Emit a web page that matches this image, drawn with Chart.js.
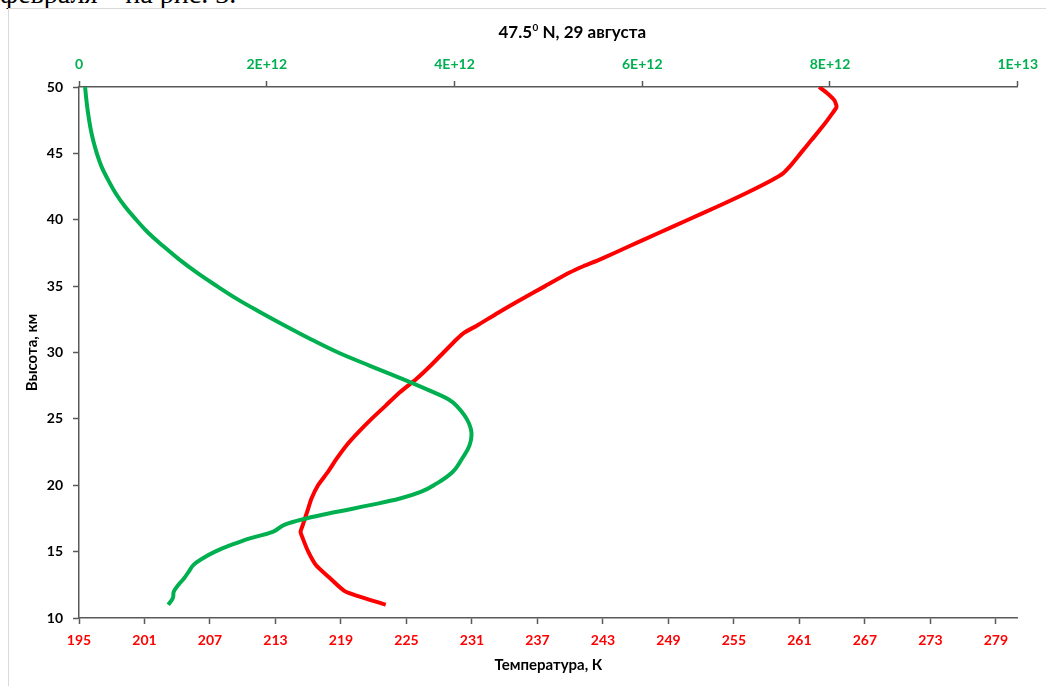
<!DOCTYPE html>
<html>
<head>
<meta charset="utf-8">
<script src="https://cdn.jsdelivr.net/npm/chart.js@4.4.1/dist/chart.umd.min.js"></script>
<style>
  body { margin: 0; background: #fff; overflow: hidden; }
  .doc-line { position: absolute; left: 0; top: -20px; font: 28px/1 "Liberation Serif", serif; color: #000; white-space: nowrap; }
  .frame { position: absolute; left: 8px; top: 8px; width: 1200px; height: 800px; border: 1px solid #d9d9d9; }
  #chart { position: absolute; left: 0; top: 0; }
</style>
</head>
<body>
<div class="doc-line">февраля – на рис. 3.</div>
<div class="frame"></div>
<canvas id="chart" width="1046" height="686"></canvas>
<script>
// temperature profile, K
const heightT = [11, 12, 13, 14, 15, 16, 16.5, 17, 18, 19, 20, 21, 22, 23, 24, 25, 26, 27, 28, 29, 30,
  31, 31.5, 32, 33, 34, 35, 36, 36.5, 37, 38, 39, 40, 41, 42, 43, 43.5, 44, 45, 46, 47, 48, 48.5, 49, 49.5, 50];
const temperature = [223.1, 219.4, 218.0, 216.7, 216.0, 215.5, 215.3, 215.5, 215.9, 216.3, 216.9, 217.8, 218.6,
  219.5, 220.6, 221.8, 223.1, 224.4, 225.9, 227.2, 228.4, 229.6, 230.3, 231.4, 233.4, 235.5, 237.7, 239.9,
  241.2, 242.7, 245.4, 248.1, 250.8, 253.5, 256.1, 258.5, 259.5, 260.1, 261.1, 262.1, 263.1, 264.0, 264.4,
  264.2, 263.6, 262.8];

// ozone number density, units of 1E+12
const heightN = [11, 11.5, 12, 12.5, 13, 13.5, 14, 14.5, 15, 15.5, 16, 16.5, 17, 17.5, 18, 18.5, 19, 19.5, 20,
  21, 22, 23, 24, 25, 26, 26.5, 27, 28, 29, 30, 31, 32, 33, 34, 35, 36, 37, 38, 39, 40, 41, 42, 43, 44, 45,
  46, 47, 48, 49, 50];
const ozone = [0.95, 1.00, 1.01, 1.06, 1.12, 1.17, 1.22, 1.32, 1.45, 1.62, 1.82, 2.07, 2.18, 2.42, 2.75, 3.10,
  3.42, 3.64, 3.78, 3.98, 4.08, 4.16, 4.18, 4.13, 4.02, 3.93, 3.78, 3.45, 3.10, 2.76, 2.47, 2.20, 1.94, 1.69,
  1.47, 1.26, 1.07, 0.90, 0.74, 0.61, 0.49, 0.39, 0.31, 0.24, 0.19, 0.15, 0.12, 0.097, 0.079, 0.065];

const tempTicks = [195, 201, 207, 213, 219, 225, 231, 237, 243, 249, 255, 261, 267, 273, 279];
const ozoneTicks = [0, 2e12, 4e12, 6e12, 8e12, 1e13];
const heightTicks = [10, 15, 20, 25, 30, 35, 40, 45, 50];

const titleParts = ['47.5', '0', ' N, 29 августа'];

const AXIS = '#595959';
const RED = '#ff0000';
const GREEN = '#00b050';
const tickFont = { family: 'Lato', size: 14, weight: 'bold' };
const titleFont = { family: 'Lato', size: 15, weight: 'bold' };

// chart heading with the superscript zero
const headingPlugin = {
  id: 'heading',
  afterDraw(chart) {
    const ctx = chart.ctx;
    ctx.save();
    ctx.fillStyle = '#000';
    ctx.textBaseline = 'alphabetic';
    ctx.textAlign = 'left';
    const big = 'bold 17px Lato', small = 'bold 10px Lato';
    ctx.font = big;
    const w1 = ctx.measureText(titleParts[0]).width;
    const w3 = ctx.measureText(titleParts[2]).width;
    ctx.font = small;
    const w2 = ctx.measureText(titleParts[1]).width;
    let x = 572 - (w1 + w2 + w3) / 2;
    const y = 38;
    ctx.font = big;
    ctx.fillText(titleParts[0], x, y);
    x += w1 + 0.5;
    ctx.font = small;
    ctx.fillText(titleParts[1], x, y - 7);
    x += w2;
    ctx.font = big;
    ctx.fillText(titleParts[2], x, y);
    ctx.restore();
  }
};

function fixedTicks(list) {
  return scale => { scale.ticks = list.map(v => ({ value: v })); };
}

new Chart(document.getElementById('chart'), {
  type: 'scatter',
  data: {
    datasets: [
      {
        label: 'Озон',
        data: heightN.map((h, i) => ({ x: ozone[i] * 1e12, y: h })),
        xAxisID: 'x2',
        yAxisID: 'y',
        showLine: true,
        borderColor: GREEN,
        borderWidth: 4,
        pointRadius: 0,
        tension: 0.4
      },
      {
        label: 'Температура',
        data: heightT.map((h, i) => ({ x: temperature[i], y: h })),
        xAxisID: 'x',
        yAxisID: 'y',
        showLine: true,
        borderColor: RED,
        borderWidth: 4,
        pointRadius: 0,
        tension: 0.2
      }
    ]
  },
  options: {
    responsive: false,
    animation: false,
    layout: { padding: { top: 0, right: 28, bottom: 0, left: 0 } },
    plugins: {
      legend: { display: false },
      tooltip: { enabled: false }
    },
    scales: {
      x: {
        type: 'linear',
        position: 'bottom',
        min: 195,
        max: 281,
        afterBuildTicks: fixedTicks(tempTicks),
        afterFit: s => { s.height = 68; },
        ticks: { color: RED, font: tickFont, padding: 8, maxRotation: 0, autoSkip: false },
        grid: { drawOnChartArea: false, tickLength: 6, color: AXIS, tickWidth: 1.5 },
        border: { color: AXIS, width: 1.5 },
        title: { display: true, text: 'Температура, К', color: '#000', font: titleFont, padding: { top: 0, bottom: 12 } }
      },
      x2: {
        type: 'linear',
        position: 'top',
        min: 0,
        max: 1e13,
        afterBuildTicks: fixedTicks(ozoneTicks),
        afterFit: s => { s.height = 87; },
        ticks: {
          color: GREEN, font: tickFont, padding: 8, maxRotation: 0, autoSkip: false,
          callback: v => v === 0 ? '0' : v.toExponential(0).toUpperCase()
        },
        grid: { drawOnChartArea: false, tickLength: 6, color: AXIS, tickWidth: 1.5 },
        border: { color: AXIS, width: 1.5 }
      },
      y: {
        type: 'linear',
        position: 'left',
        min: 10,
        max: 50,
        afterBuildTicks: fixedTicks(heightTicks),
        afterFit: s => { s.width = 79; },
        ticks: { color: '#000', font: tickFont, padding: 10 },
        grid: { drawOnChartArea: false, tickLength: 6, color: AXIS, tickWidth: 1.5 },
        border: { color: AXIS, width: 1.5 },
        title: { display: true, text: 'Высота, км', color: '#000', font: titleFont, padding: { top: 23, bottom: 0 } }
      }
    }
  },
  plugins: [headingPlugin]
});
</script>
</body>
</html>
